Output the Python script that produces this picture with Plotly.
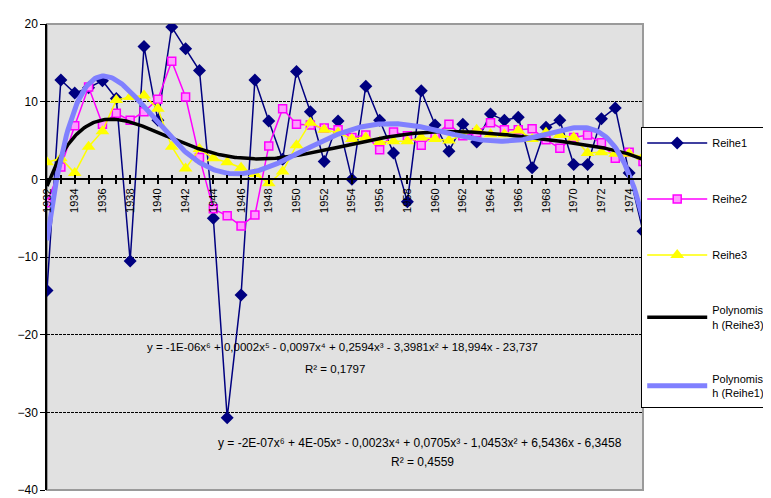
import numpy as np
import plotly.graph_objects as go

years = list(range(1932, 1976))
reihe1 = [-14.3, 12.8, 11.1, 11.8, 12.7, 10.4, -10.5, 17.1, 7.6, 19.6, 16.8, 14.0,
          -5.0, -30.7, -14.9, 12.8, 7.5, 2.6, 13.9, 8.7, 2.3, 7.5, 0.0, 12.0,
          7.6, 3.4, -2.9, 11.4, 7.0, 3.6, 7.1, 4.8, 8.4, 7.6, 8.0, 1.5,
          6.7, 7.6, 1.9, 1.9, 7.8, 9.2, 0.8, -6.7]
reihe2 = [-3.0, 1.6, 6.9, 11.9, 7.1, 8.5, 7.6, 8.7, 10.3, 15.2, 10.6, 2.8,
          -3.8, -4.7, -6.0, -4.6, 4.3, 9.1, 7.1, 7.0, 6.6, 6.4, 5.4, 5.7,
          3.8, 6.1, 5.6, 4.4, 5.8, 7.1, 5.6, 6.0, 7.3, 6.4, 6.4, 6.5,
          5.1, 4.0, 5.4, 5.7, 4.7, 2.7, 3.5, 2.3]
reihe3 = [2.2, 2.7, 0.8, 4.2, 6.2, 10.2, 10.6, 10.8, 9.1, 4.2, 1.4, 3.9,
          2.7, 2.2, 1.5, 0.7, -0.5, 1.0, 4.4, 7.3, 6.4, 6.0, 5.2, 5.4,
          4.8, 4.9, 4.9, 5.4, 5.2, 5.0, 5.7, 6.4, 5.8, 5.8, 6.3, 5.2,
          6.0, 5.7, 5.4, 3.4, 3.5, 3.3, 3.3, 2.9]
y_ticks = [20, 10, 0, -10, -20, -30, -40]
eq1 = "y = -1E-06x\u2076 + 0,0002x\u2075 - 0,0097x\u2074 + 0,2594x\u00b3 - 3,3981x\u00b2 + 18,994x - 23,737"
r2_1 = "R\u00b2 = 0,1797"
eq2 = "y = -2E-07x\u2076 + 4E-05x\u2075 - 0,0023x\u2074 + 0,0705x\u00b3 - 1,0453x\u00b2 + 6,5436x - 6,3458"
r2_2 = "R\u00b2 = 0,4559"

FONT = "Liberation Sans, Arial, sans-serif"

# 6th-order polynomial trendlines (fit on the series, x = 1..n as in Excel)
idx = np.arange(1, len(years) + 1)
fine = np.linspace(1, len(years), 400)
fit3 = np.polynomial.Polynomial.fit(idx, reihe3, 6)
fit1 = np.polynomial.Polynomial.fit(idx, reihe1, 6)
fine_years = years[0] - 1 + fine

fig = go.Figure()
fig.add_trace(go.Scatter(x=years, y=reihe1, name="Reihe1", mode="lines+markers",
                         line=dict(color="#000080", width=1.5),
                         marker=dict(symbol="diamond", size=10, color="#000080"),
                         legendgroup="a"))
fig.add_trace(go.Scatter(x=years, y=reihe2, name="Reihe2", mode="lines+markers",
                         line=dict(color="#FF00FF", width=1.5),
                         marker=dict(symbol="square", size=8, color="#FF99FF",
                                     line=dict(color="#FF00FF", width=1.5)),
                         legendgroup="b"))
fig.add_trace(go.Scatter(x=years, y=reihe3, name="Reihe3", mode="lines+markers",
                         line=dict(color="#FFFF00", width=1.5),
                         marker=dict(symbol="triangle-up", size=12, color="#FFFF00"),
                         legendgroup="c"))
fig.add_trace(go.Scatter(x=fine_years, y=fit3(fine), name="Polynomis<br>h (Reihe3)",
                         mode="lines", line=dict(color="#000000", width=3.5),
                         legendgroup="d"))
fig.add_trace(go.Scatter(x=fine_years, y=fit1(fine), name="Polynomis<br>h (Reihe1)",
                         mode="lines", line=dict(color="#8080FF", width=5),
                         legendgroup="e"))

fig.update_layout(
    width=771, height=498,
    margin=dict(l=35, r=128, t=15, b=9),
    paper_bgcolor="white",
    plot_bgcolor="#E1E1E1",
    font=dict(family=FONT, size=11, color="black"),
    xaxis=dict(range=[1932, 1975], tickmode="linear", tick0=1932, dtick=2,
               tickangle=-90, ticks="outside", ticklen=4, tickcolor="black", tickwidth=1.5,
               minor=dict(tickmode="linear", tick0=1932, dtick=1, ticks="outside",
                          ticklen=4, tickcolor="black", tickwidth=1.5, showgrid=False),
               showline=True, linecolor="black", linewidth=1.5, showgrid=False,
               zeroline=False, anchor="free", position=40 / 60,
               tickfont=dict(size=11, family=FONT)),
    xaxis2=dict(range=[1932, 1975], tickmode="linear", tick0=1932, dtick=1,
                ticks="inside", ticklen=4, tickcolor="black", tickwidth=1.5,
                showline=False, showgrid=False, zeroline=False, overlaying="x",
                anchor="free", position=40 / 60, showticklabels=False),
    yaxis=dict(range=[-40, 20], tickmode="array", tickvals=y_ticks,
               ticks="outside", ticklen=5, tickcolor="black",
               showline=True, linecolor="black", linewidth=1.5,
               showgrid=True, gridcolor="black", gridwidth=1, griddash="3px,1px",
               zeroline=False, tickfont=dict(size=12, family=FONT)),
    legend=dict(x=0.997, y=0.778, xanchor="left", yanchor="top",
                bgcolor="white", bordercolor="black", borderwidth=1,
                font=dict(size=11, family=FONT), tracegroupgap=37,
                itemwidth=60),
    annotations=[
        dict(text=eq1, x=0.4966, y=0.289, xref="paper", yref="paper", showarrow=False,
             font=dict(size=11.5, family=FONT)),
        dict(text=r2_1, x=0.4836, y=0.2426, xref="paper", yref="paper", showarrow=False,
             font=dict(size=11.5, family=FONT)),
        dict(text=eq2, x=0.6266, y=0.0823, xref="paper", yref="paper", showarrow=False,
             font=dict(size=12, family=FONT)),
        dict(text=r2_2, x=0.630, y=0.0401, xref="paper", yref="paper", showarrow=False,
             font=dict(size=12, family=FONT)),
    ],
    shapes=[dict(type="rect", xref="paper", yref="paper", x0=0, x1=1, y0=0, y1=1,
                 line=dict(color="#9A9A9A", width=2), layer="below")],
)
# invisible helper trace that activates xaxis2 (inner half of the cross ticks)
fig.add_trace(go.Scatter(x=[1932], y=[None], xaxis="x2", showlegend=False, hoverinfo="skip"))

fig.write_html("out.html")
